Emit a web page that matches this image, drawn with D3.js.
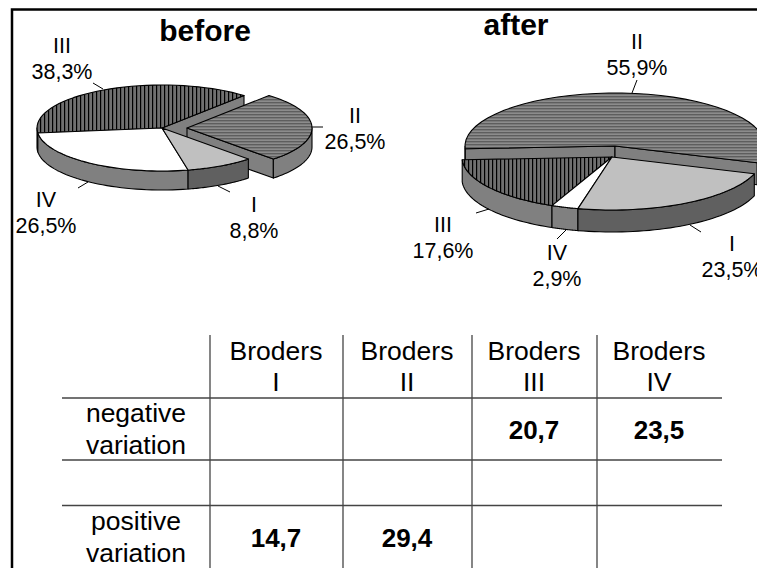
<!DOCTYPE html>
<html><head><meta charset="utf-8"><script src="https://cdn.jsdelivr.net/npm/d3@7"></script>
<style>html,body{margin:0;padding:0;background:#fff;overflow:hidden}svg{display:block}text{font-family:"Liberation Sans",Arial,sans-serif;fill:#000}</style></head><body>
<svg id="c" width="757" height="568"></svg>
<script>
const sliceNames=["II","I","IV","III"];
const beforeValues=[26.5,8.8,26.5,38.3];
const afterValues=[55.9,23.5,2.9,17.6];
const beforeLabels=["26,5%","8,8%","26,5%","38,3%"];
const afterLabels=["55,9%","23,5%","2,9%","17,6%"];
const brokers=["I","II","III","IV"];
const rowNames=[["negative","variation"],[],["positive","variation"]];
const negativeRow=["","","20,7","23,5"];
const emptyRow=["","","",""];
const positiveRow=["14,7","29,4","",""];

const svg=d3.select("#c");
const defs=svg.append("defs");
const hp=defs.append("pattern").attr("id","hH").attr("width",4).attr("height",3).attr("patternUnits","userSpaceOnUse");
hp.append("rect").attr("width",4).attr("height",3).attr("fill","#8c8c8c");
hp.append("rect").attr("width",4).attr("height",1.4).attr("fill","#5e5e5e");
const vp=defs.append("pattern").attr("id","vH").attr("width",4).attr("height",4).attr("patternUnits","userSpaceOnUse");
vp.append("rect").attr("width",4).attr("height",4).attr("fill","#707070");
vp.append("rect").attr("width",1.2).attr("height",4).attr("fill","#000");

svg.append("path").attr("d","M12,568V9.5H757").attr("fill","none").attr("stroke","#000").attr("stroke-width",2.5);

const styles={II:{top:"url(#hH)",wall:"#808080"},I:{top:"#c0c0c0",wall:"#606060"},IV:{top:"#fff",wall:"#808080"},III:{top:"url(#vH)",wall:"#808080"}};
const deg=Math.PI/180;

function drawPie(cfg){
  const g=svg.append("g");
  const arcs=d3.pie().sort(null).startAngle(cfg.start*deg).endAngle((cfg.start+360)*deg)(cfg.values);
  const X=d3.scaleLinear().domain([-1,1]).range([-cfg.rx,cfg.rx]);
  const Y=d3.scaleLinear().domain([-1,1]).range([-cfg.ry,cfg.ry]);
  const pt=(a,c,dy=0)=>[c[0]+X(Math.sin(a)),c[1]+Y(-Math.cos(a))+dy];
  const line=d3.line();
  const samp=(a0,a1,c,dy)=>d3.range(0,41).map(i=>pt(a0+(a1-a0)*i/40,c,dy));
  const items=arcs.map((d,i)=>({d,i,name:sliceNames[i],c:cfg.centers[i]}));
  const stroke=e=>e.attr("stroke","#000").attr("stroke-width",1.1).attr("stroke-linejoin","round");
  cfg.order.forEach(idx=>{
    const it=items[idx],a0=it.d.startAngle,a1=it.d.endAngle,c=it.c,s=styles[it.name],dp=cfg.depth;
    // cut walls, only where a gap exposes them
    [a0,a1].forEach((a,k)=>{
      if(!cfg.cuts[idx][k]) return;
      const p=pt(a,c);
      stroke(g.append("path").attr("d",line([c,p,[p[0],p[1]+dp],[c[0],c[1]+dp]])+"Z").attr("fill",s.wall));
    });
    // outer wall where the rim faces the viewer
    [[Math.max(a0,Math.PI/2),Math.min(a1,3*Math.PI/2)],[Math.max(a0,2.5*Math.PI),Math.min(a1,3.5*Math.PI)]].forEach(([l,h])=>{
      if(h>l){
        const path=samp(l,h,c,0).concat(samp(h,l,c,dp));
        stroke(g.append("path").attr("d",line(path)+"Z").attr("fill",s.wall));
      }
    });
    stroke(g.append("path").attr("d",line([c].concat(samp(a0,a1,c,0)))+"Z").attr("fill",s.top));
  });
  items.forEach(it=>{
    const L=cfg.leaders[it.i];
    g.append("line").attr("x1",L[0]).attr("y1",L[1]).attr("x2",L[2]).attr("y2",L[3]).attr("stroke","#000");
    const T=cfg.labels[it.i];
    const t=g.append("text").attr("text-anchor","middle").attr("font-size",21.5);
    t.append("tspan").attr("x",T[0]).attr("y",T[1]).text(it.name);
    t.append("tspan").attr("x",T[0]).attr("y",T[1]+25.5).text(cfg.text[it.i]);
  });
}

drawPie({values:beforeValues,text:beforeLabels,start:41,rx:125,ry:43,depth:19,
  centers:[[187,128],[162,128],[162,128],[162,128]],order:[3,0,2,1],
  cuts:[[false,true],[false,false],[false,false],[false,true]],
  leaders:[[311.5,127,323,127],[218,186,230,192],[88,182,78,188],[103,89,93,83]],
  labels:[[355,123],[254,212],[46,207],[62,53]]});
drawPie({values:afterValues,text:afterLabels,start:267,rx:150,ry:53,depth:22,
  centers:[[615,146],[612,157],[612,157],[612,157]],order:[0,3,2,1],
  cuts:[[true,true],[false,false],[false,false],[false,false]],
  leaders:[[632,93,637,80],[690,225,701,232],[567,229,557,239],[489,209,476,213]],
  labels:[[637,49],[732,251],[557,260],[443,232]]});

svg.append("text").attr("x",205).attr("y",41).attr("text-anchor","middle").attr("font-size",30).attr("font-weight","bold").text("before");
svg.append("text").attr("x",516).attr("y",35).attr("text-anchor","middle").attr("font-size",30).attr("font-weight","bold").text("after");

// table
const colLines=[210,343,472,597];
const x=d3.scaleOrdinal().domain(brokers).range([276,407,534,659]);
const rows=[negativeRow,emptyRow,positiveRow];
const hLines=[398,460,505.5];
const rowBase=[439,0,547];
const nameBase=[[422,454],[],[530,562]];
const lineStyle=e=>e.attr("stroke","#444").attr("stroke-width",1.3);
hLines.forEach(y=>lineStyle(svg.append("line").attr("x1",62).attr("x2",722).attr("y1",y).attr("y2",y)));
colLines.forEach(e=>lineStyle(svg.append("line").attr("x1",e).attr("x2",e).attr("y1",335).attr("y2",568)));
brokers.forEach(b=>{
  const t=svg.append("text").attr("text-anchor","middle").attr("font-size",26.5);
  t.append("tspan").attr("x",x(b)).attr("y",360).text("Broders");
  t.append("tspan").attr("x",x(b)).attr("y",391).text(b);
});
rows.forEach((r,ri)=>{
  r.forEach((v,ci)=>{ if(v) svg.append("text").attr("x",x(brokers[ci])).attr("y",rowBase[ri]).attr("text-anchor","middle").attr("font-size",26).attr("font-weight","bold").text(v); });
  rowNames[ri].forEach((n,k)=>svg.append("text").attr("x",136).attr("y",nameBase[ri][k]).attr("text-anchor","middle").attr("font-size",26.5).text(n));
});
</script></body></html>
